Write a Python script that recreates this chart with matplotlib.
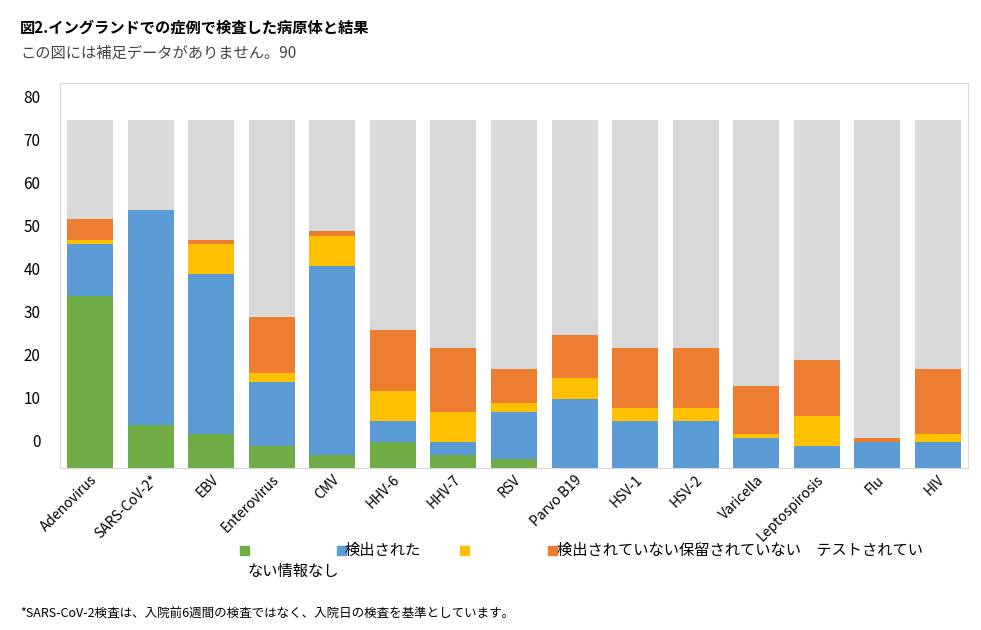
import numpy as np
import matplotlib.pyplot as plt

plt.rcParams['font.family'] = ['Noto Sans CJK JP', 'DejaVu Sans']

pathogens = ["Adenovirus", "SARS-CoV-2*", "EBV", "Enterovirus", "CMV", "HHV-6", "HHV-7",
             "RSV", "Parvo B19", "HSV-1", "HSV-2", "Varicella", "Leptospirosis", "Flu", "HIV"]
green = [40, 10, 8, 5, 3, 6, 3, 2, 0, 0, 0, 0, 0, 0, 0]
blue = [12, 50, 37, 15, 44, 5, 3, 11, 16, 11, 11, 7, 5, 6, 6]
yellow = [1, 0, 7, 2, 7, 7, 7, 2, 5, 3, 3, 1, 7, 0, 2]
orange = [5, 0, 1, 13, 1, 14, 15, 8, 10, 14, 14, 11, 13, 1, 15]
total = 81
tick_labels = [0, 10, 20, 30, 40, 50, 60, 70, 80]
tick_offset = 6.3  # the axis labels in the source sit above the bar base

colors = ["#70ad47", "#5b9bd5", "#ffc000", "#ed7d31", "#d9d9d9"]

fig = plt.figure(figsize=(9.81, 6.3), dpi=100)
ax = fig.add_axes([60 / 981, 1 - 468 / 630, 908 / 981, 385 / 630])

x = np.arange(len(pathogens))
g = np.array(green); b = np.array(blue); y = np.array(yellow); o = np.array(orange)
grey = total - g - b - y - o
bottom = np.zeros(len(x))
for vals, c in zip([g, b, y, o, grey], colors):
    ax.bar(x, vals, bottom=bottom, width=0.76, color=c)
    bottom = bottom + vals

ax.set_xlim(-0.5, len(x) - 0.5)
ax.set_ylim(0, 89.5)
ax.set_yticks([t + tick_offset for t in tick_labels])
ax.set_yticklabels([str(t) for t in tick_labels], fontsize=11)
ax.tick_params(axis='y', length=0, pad=14)
ax.set_xticks(x)
ax.set_xticklabels(pathogens, rotation=45, ha='right', rotation_mode='anchor', fontsize=10)
ax.tick_params(axis='x', length=0)
for s in ax.spines.values():
    s.set_color("#d9d9d9")

fig.text(20 / 981, 1 - 28 / 630, "図2.イングランドでの症例で検査した病原体と結果",
         fontsize=11, fontweight='bold', va='center')
fig.text(20 / 981, 1 - 53 / 630, "この図には補足データがありません。90",
         fontsize=11, color="#444444", va='center')

# legend
ly = 1 - 550 / 630
for px, c in zip([240, 337, 460, 548], colors[:4]):
    fig.patches.append(plt.Rectangle((px / 981, ly - 0.008), 9 / 981, 9 / 630,
                                     color=c, transform=fig.transFigure))
fig.text(345 / 981, ly, "検出された", fontsize=11, va='center')
fig.text(557 / 981, ly, "検出されていない保留されていない　テストされてい", fontsize=11, va='center')
fig.text(248 / 981, 1 - 571 / 630, "ない情報なし", fontsize=11, va='center')

fig.text(20 / 981, 1 - 614 / 630,
         "*SARS-CoV-2検査は、入院前6週間の検査ではなく、入院日の検査を基準としています。",
         fontsize=9, va='center')

fig.savefig("out.png", dpi=100)
